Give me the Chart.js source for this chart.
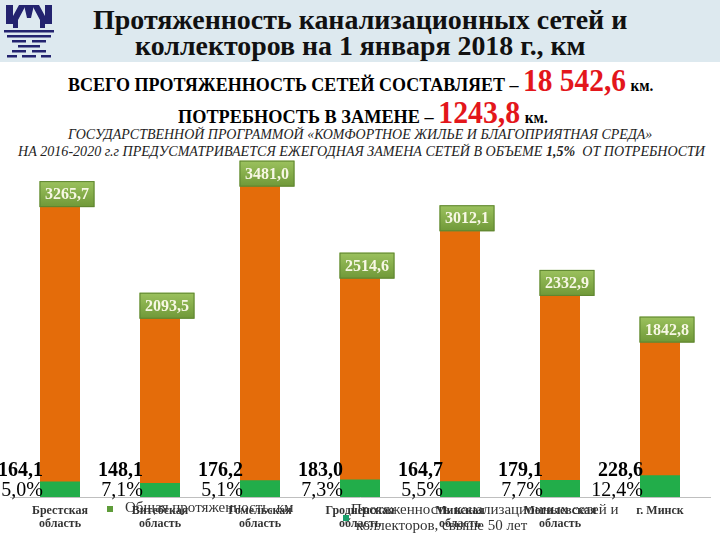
<!DOCTYPE html>
<html><head><meta charset="utf-8">
<script src="https://cdn.jsdelivr.net/npm/chart.js@4/dist/chart.umd.min.js"></script>
<style>
html,body{margin:0;padding:0;background:#fff;}
#page{position:relative;width:720px;height:540px;overflow:hidden;background:#fff;font-family:"Liberation Serif","DejaVu Serif",serif;}
#band{position:absolute;left:0;top:0;width:720px;height:62px;background:#dde9ef;}
.ln{position:absolute;white-space:nowrap;transform-origin:0 50%;line-height:1;}
#chartBox{position:absolute;left:0;top:150px;width:720px;height:390px;}
.sq{position:absolute;width:6px;height:6px;}
</style></head>
<body><div id="page">
<div id="band"></div>
<svg style="position:absolute;left:4px;top:4px" width="50" height="56" viewBox="0 0 50 56">
 <g fill="#23236f">
  <polygon points="2,1 9,1 9,12 15,1 22,1 14,16 14,24 9,24 9,20 2,20"/>
  <polygon points="48,1 41,1 41,12 35,1 28,1 36,16 36,24 41,24 41,20 48,20"/>
  <polygon points="20,1 30,1 27,14 23,14"/>
  <rect x="0" y="26" width="50" height="2.5"/>
  <rect x="3" y="31" width="44" height="2.5"/>
  <rect x="8" y="36" width="14" height="2.5"/><rect x="28" y="36" width="14" height="2.5"/>
  <rect x="14" y="41" width="22" height="2.5"/>
  <rect x="8" y="46" width="14" height="2.5"/><rect x="28" y="46" width="14" height="2.5"/>
  <rect x="3" y="51" width="10" height="2.5"/><rect x="18" y="51" width="14" height="2.5"/><rect x="37" y="51" width="10" height="2.5"/>
 </g>
</svg>
<div class="ln" id="t1" data-l="93" data-r="627" data-y="20" style="font-weight:bold;font-size:27px;color:#111;">Протяженность канализационных сетей и</div>
<div class="ln" id="t2" data-l="135" data-r="586" data-y="46" style="font-weight:bold;font-size:27px;color:#111;">коллекторов на 1 января 2018 г., км</div>
<div class="ln" id="t3" data-l="68" data-r="653" data-y="80" style="font-weight:bold;font-size:19px;color:#000;">ВСЕГО ПРОТЯЖЕННОСТЬ СЕТЕЙ СОСТАВЛЯЕТ – <span style="color:#e3161b;font-size:31px;">18 542,6</span> <span style="font-size:16px">км.</span></div>
<div class="ln" id="t4" data-l="178" data-r="548" data-y="112" style="font-weight:bold;font-size:19px;color:#000;">ПОТРЕБНОСТЬ В ЗАМЕНЕ – <span style="color:#e3161b;font-size:31px;">1243,8</span> <span style="font-size:16px">км.</span></div>
<div class="ln" id="t5" data-l="68" data-r="652" data-y="135" style="font-style:italic;font-size:14px;color:#222;">ГОСУДАРСТВЕННОЙ ПРОГРАММОЙ «КОМФОРТНОЕ ЖИЛЬЕ И БЛАГОПРИЯТНАЯ СРЕДА»</div>
<div class="ln" id="t6" data-l="18" data-r="705" data-y="152" style="font-style:italic;font-size:14px;color:#222;">НА 2016-2020 г.г ПРЕДУСМАТРИВАЕТСЯ ЕЖЕГОДНАЯ ЗАМЕНА СЕТЕЙ В ОБЪЕМЕ <b>1,5%</b> &nbsp;ОТ ПОТРЕБНОСТИ</div>
<div id="chartBox"><canvas id="c" width="720" height="390"></canvas></div>
<div class="sq" style="left:107px;top:506px;background:#5e9c3a;"></div>
<div class="ln" style="left:125px;top:500px;font-size:15px;color:#333;">Общая протяженность, км</div>
<div class="sq" style="left:343px;top:515px;background:#1a9f6b;"></div>
<div class="ln" style="left:351px;top:502px;font-size:15px;color:#333;">Протяженность канализационных сетей и</div>
<div class="ln" style="left:356px;top:518px;font-size:15px;color:#333;">коллекторов, свыше 50 лет</div>
</div>
<script>
// ---- data ----
const categories = [["Брестская","область"],["Витебская","область"],["Гомельская","область"],["Гродненская","область"],["Минская","область"],["Могилевская","область"],["г. Минск"]];
const totalLength = [3265.7, 2093.5, 3481.0, 2514.6, 3012.1, 2332.9, 1842.8];
const oldLength = [164.1, 148.1, 176.2, 183.0, 164.7, 179.1, 228.6];
const oldShare = ["5,0%", "7,1%", "5,1%", "7,3%", "5,5%", "7,7%", "12,4%"];

// fit header lines
document.querySelectorAll('.ln[data-l]').forEach(el=>{
  const l=+el.dataset.l, r=+el.dataset.r, y=+el.dataset.y;
  const w=el.offsetWidth, h=el.offsetHeight;
  el.style.left=l+'px'; el.style.top=(y-h/2)+'px';
  el.style.transform='scaleX('+((r-l)/w)+')';
});

const fmt = v => v.toFixed(1).replace('.', ',');

const labelPlugin = {
  id:'labels',
  afterDatasetsDraw(chart){
    const ctx=chart.ctx;
    const totMeta=chart.getDatasetMeta(1);
    const oldMeta=chart.getDatasetMeta(0);
    ctx.save();
    totMeta.data.forEach((bar,i)=>{
      const cx=bar.x+7, cy=bar.y+8, w=55, h=26;
      const g=ctx.createLinearGradient(0,cy-h/2,0,cy+h/2);
      g.addColorStop(0,'#9cc25e'); g.addColorStop(1,'#6f9838');
      ctx.fillStyle=g;
      ctx.fillRect(cx-w/2,cy-h/2,w,h);
      ctx.strokeStyle='#5f8530'; ctx.lineWidth=1;
      ctx.strokeRect(cx-w/2+0.5,cy-h/2+0.5,w-1,h-1);
      ctx.fillStyle='#f7f7e4';
      ctx.font='bold 16px "Liberation Serif"';
      ctx.textAlign='center'; ctx.textBaseline='middle';
      ctx.fillText(fmt(totalLength[i]),cx,cy+1);
    });
    oldMeta.data.forEach((bar,i)=>{
      const rx=bar.x-17, base=bar.base;
      ctx.fillStyle='#000';
      ctx.textAlign='right'; ctx.textBaseline='middle';
      ctx.font='bold 20px "Liberation Serif"';
      ctx.fillText(fmt(oldLength[i]),rx,base-26);
      ctx.font='20px "Liberation Serif"';
      ctx.fillText(oldShare[i],rx,base-6);
    });
    ctx.restore();
  }
};

new Chart(document.getElementById('c'),{
  type:'bar',
  data:{
    labels:categories,
    datasets:[
      {label:'Протяженность канализационных сетей и коллекторов, свыше 50 лет',data:oldLength,backgroundColor:'#22ad4a',order:0,grouped:false,barPercentage:0.4,categoryPercentage:1},
      {label:'Общая протяженность, км',data:totalLength,backgroundColor:'#e46c0a',order:1,grouped:false,barPercentage:0.4,categoryPercentage:1}
    ]
  },
  options:{
    responsive:false,animation:false,devicePixelRatio:1,
    layout:{padding:{left:10,right:10,top:0,bottom:0}},
    plugins:{legend:{display:false},tooltip:{enabled:false}},
    scales:{
      x:{grid:{display:false,drawTicks:false},border:{display:true,color:'#bfbfbf'},
         ticks:{padding:7,maxRotation:0,autoSkip:false,color:'#333',font:{family:'"Liberation Serif", serif',size:12,weight:'bold',lineHeight:1.1}},
         afterFit:s=>{s.height=43;}},
      y:{display:false,min:0,max:3645}
    }
  },
  plugins:[labelPlugin]
});
</script>
</body></html>
